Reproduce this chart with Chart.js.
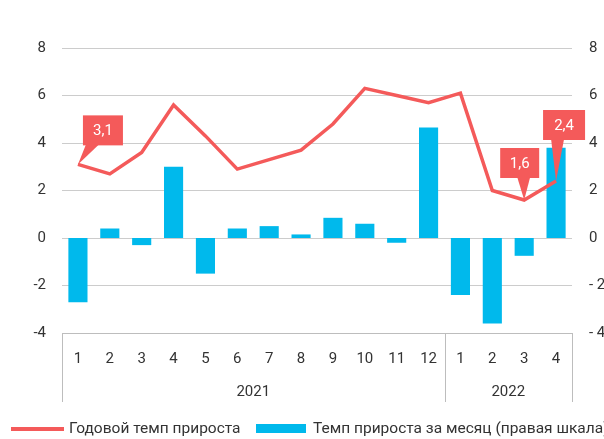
<!DOCTYPE html>
<html>
<head>
<meta charset="utf-8">
<script src="https://cdn.jsdelivr.net/npm/chart.js@4"></script>
<style>
  html, body { margin: 0; padding: 0; background: #fff; }
  #wrap { width: 604px; height: 439px; }
</style>
</head>
<body>
<div id="wrap"><canvas id="cpiChart" width="604" height="439"></canvas></div>
<script>
// months and years
const months = ['1','2','3','4','5','6','7','8','9','10','11','12','1','2','3','4'];
const years = ['2021', '2022'];
const yearSpans = [12, 4];

// annual growth rate (left scale)
const annualRate = [3.1, 2.7, 3.6, 5.6, 4.3, 2.9, 3.3, 3.7, 4.8, 6.3, 6.0, 5.7, 6.1, 2.0, 1.6, 2.4];
// monthly growth rate (right scale)
const monthlyRate = [-2.7, 0.4, -0.3, 3.0, -1.5, 0.4, 0.5, 0.15, 0.85, 0.6, -0.2, 4.65, -2.4, -3.6, -0.75, 3.8];

const yTicks = [-4, -2, 0, 2, 4, 6, 8];
const seriesNames = ['Годовой темп прироста', 'Темп прироста за месяц (правая шкала)'];

// points that get a callout
const calloutIdx = [0, 14, 15];

const RED = '#F45A5A';
const BLUE = '#00B9EC';
const FONT = 'Roboto, "DejaVu Sans", sans-serif';
const FS = 15;

// callout boxes, offsets from the point
const calloutStyle = {
  0: { dx: 5, dy: -49, w: 40, base: [3, 16] },
  14: { dx: -24, dy: -52, w: 39, base: [17, 30] },
  15: { dx: -13, dy: -71, w: 42, base: [8, 21] }
};

const extras = {
  id: 'extras',
  afterDraw(chart) {
    const c = chart.ctx;
    const area = chart.chartArea;
    const w = (area.right - area.left) / months.length;
    const boxBottom = area.bottom + 69;

    // x-axis group box
    c.save();
    c.strokeStyle = '#bdbdbd';
    c.lineWidth = 1;
    c.beginPath();
    c.moveTo(area.left, area.bottom + 0.5);
    c.lineTo(area.right, area.bottom + 0.5);
    let pos = 0;
    const edges = [0];
    yearSpans.forEach(s => { pos += s; edges.push(pos); });
    edges.forEach(e => {
      const x = Math.round(area.left + e * w) + 0.5;
      c.moveTo(x, area.bottom);
      c.lineTo(x, boxBottom);
    });
    c.stroke();

    c.fillStyle = '#333';
    c.font = FS + 'px ' + FONT;
    c.textAlign = 'center';
    c.textBaseline = 'middle';
    years.forEach((y, i) => {
      const x = area.left + (edges[i] + edges[i + 1]) / 2 * w;
      c.fillText(y, x, area.bottom + 59);
    });

    // callouts
    const meta = chart.getDatasetMeta(0);
    calloutIdx.forEach(i => {
      const p = meta.data[i];
      const s = calloutStyle[i];
      const bx = p.x + s.dx, by = p.y + s.dy, bh = 30;
      c.fillStyle = RED;
      c.fillRect(bx, by, s.w, bh);
      c.beginPath();
      c.moveTo(bx + s.base[0], by + bh - 1);
      c.lineTo(p.x, p.y);
      c.lineTo(bx + s.base[1], by + bh - 1);
      c.closePath();
      c.fill();
      c.fillStyle = '#fff';
      c.font = FS + 'px ' + FONT;
      c.textAlign = 'center';
      c.textBaseline = 'middle';
      c.fillText(String(annualRate[i]).replace('.', ','), bx + s.w / 2, by + bh / 2 + 1);
    });

    // legend
    const ly = 429;
    c.strokeStyle = RED;
    c.lineWidth = 4;
    c.beginPath();
    c.moveTo(11, ly);
    c.lineTo(64, ly);
    c.stroke();
    c.fillStyle = BLUE;
    c.fillRect(256, ly - 5, 50, 9);
    c.fillStyle = '#333';
    c.font = '15.5px ' + FONT;
    c.textAlign = 'left';
    c.textBaseline = 'middle';
    c.fillText(seriesNames[0], 69, ly);
    c.fillText(seriesNames[1], 313, ly);
    c.restore();
  }
};

new Chart(document.getElementById('cpiChart'), {
  type: 'bar',
  data: {
    labels: months,
    datasets: [{
      type: 'line',
      label: seriesNames[0],
      data: annualRate,
      borderColor: RED,
      borderWidth: 3.5,
      pointRadius: 0,
      tension: 0,
      yAxisID: 'y',
      order: 0
    }, {
      type: 'bar',
      label: seriesNames[1],
      data: monthlyRate,
      backgroundColor: BLUE,
      categoryPercentage: 0.6,
      barPercentage: 1,
      yAxisID: 'y1',
      order: 1
    }]
  },
  options: {
    responsive: false,
    animation: false,
    layout: { padding: { top: 48, bottom: 37, left: 0, right: 0 } },
    plugins: { legend: { display: false }, tooltip: { enabled: false } },
    scales: {
      x: {
        grid: { display: false },
        border: { display: false },
        ticks: { color: '#333', font: { family: FONT, size: FS }, padding: 9, maxRotation: 0, autoSkip: false },
        afterFit(scale) { scale.height = 69; }
      },
      y: {
        position: 'left',
        min: -4, max: 8,
        afterBuildTicks(scale) { scale.ticks = yTicks.map(v => ({ value: v })); },
        grid: { color: '#cccccc', drawTicks: false },
        border: { display: false },
        ticks: { color: '#333', font: { family: FONT, size: FS }, padding: 16 },
        afterFit(scale) { scale.width = 62; }
      },
      y1: {
        position: 'right',
        min: -4, max: 8,
        afterBuildTicks(scale) { scale.ticks = yTicks.map(v => ({ value: v })); },
        grid: { display: false, drawTicks: false },
        border: { display: false },
        ticks: {
          color: '#333', font: { family: FONT, size: FS }, padding: 17,
          callback: v => v < 0 ? '- ' + Math.abs(v) : String(v)
        },
        afterFit(scale) { scale.width = 32; }
      }
    }
  },
  plugins: [extras]
});
</script>
</body>
</html>
